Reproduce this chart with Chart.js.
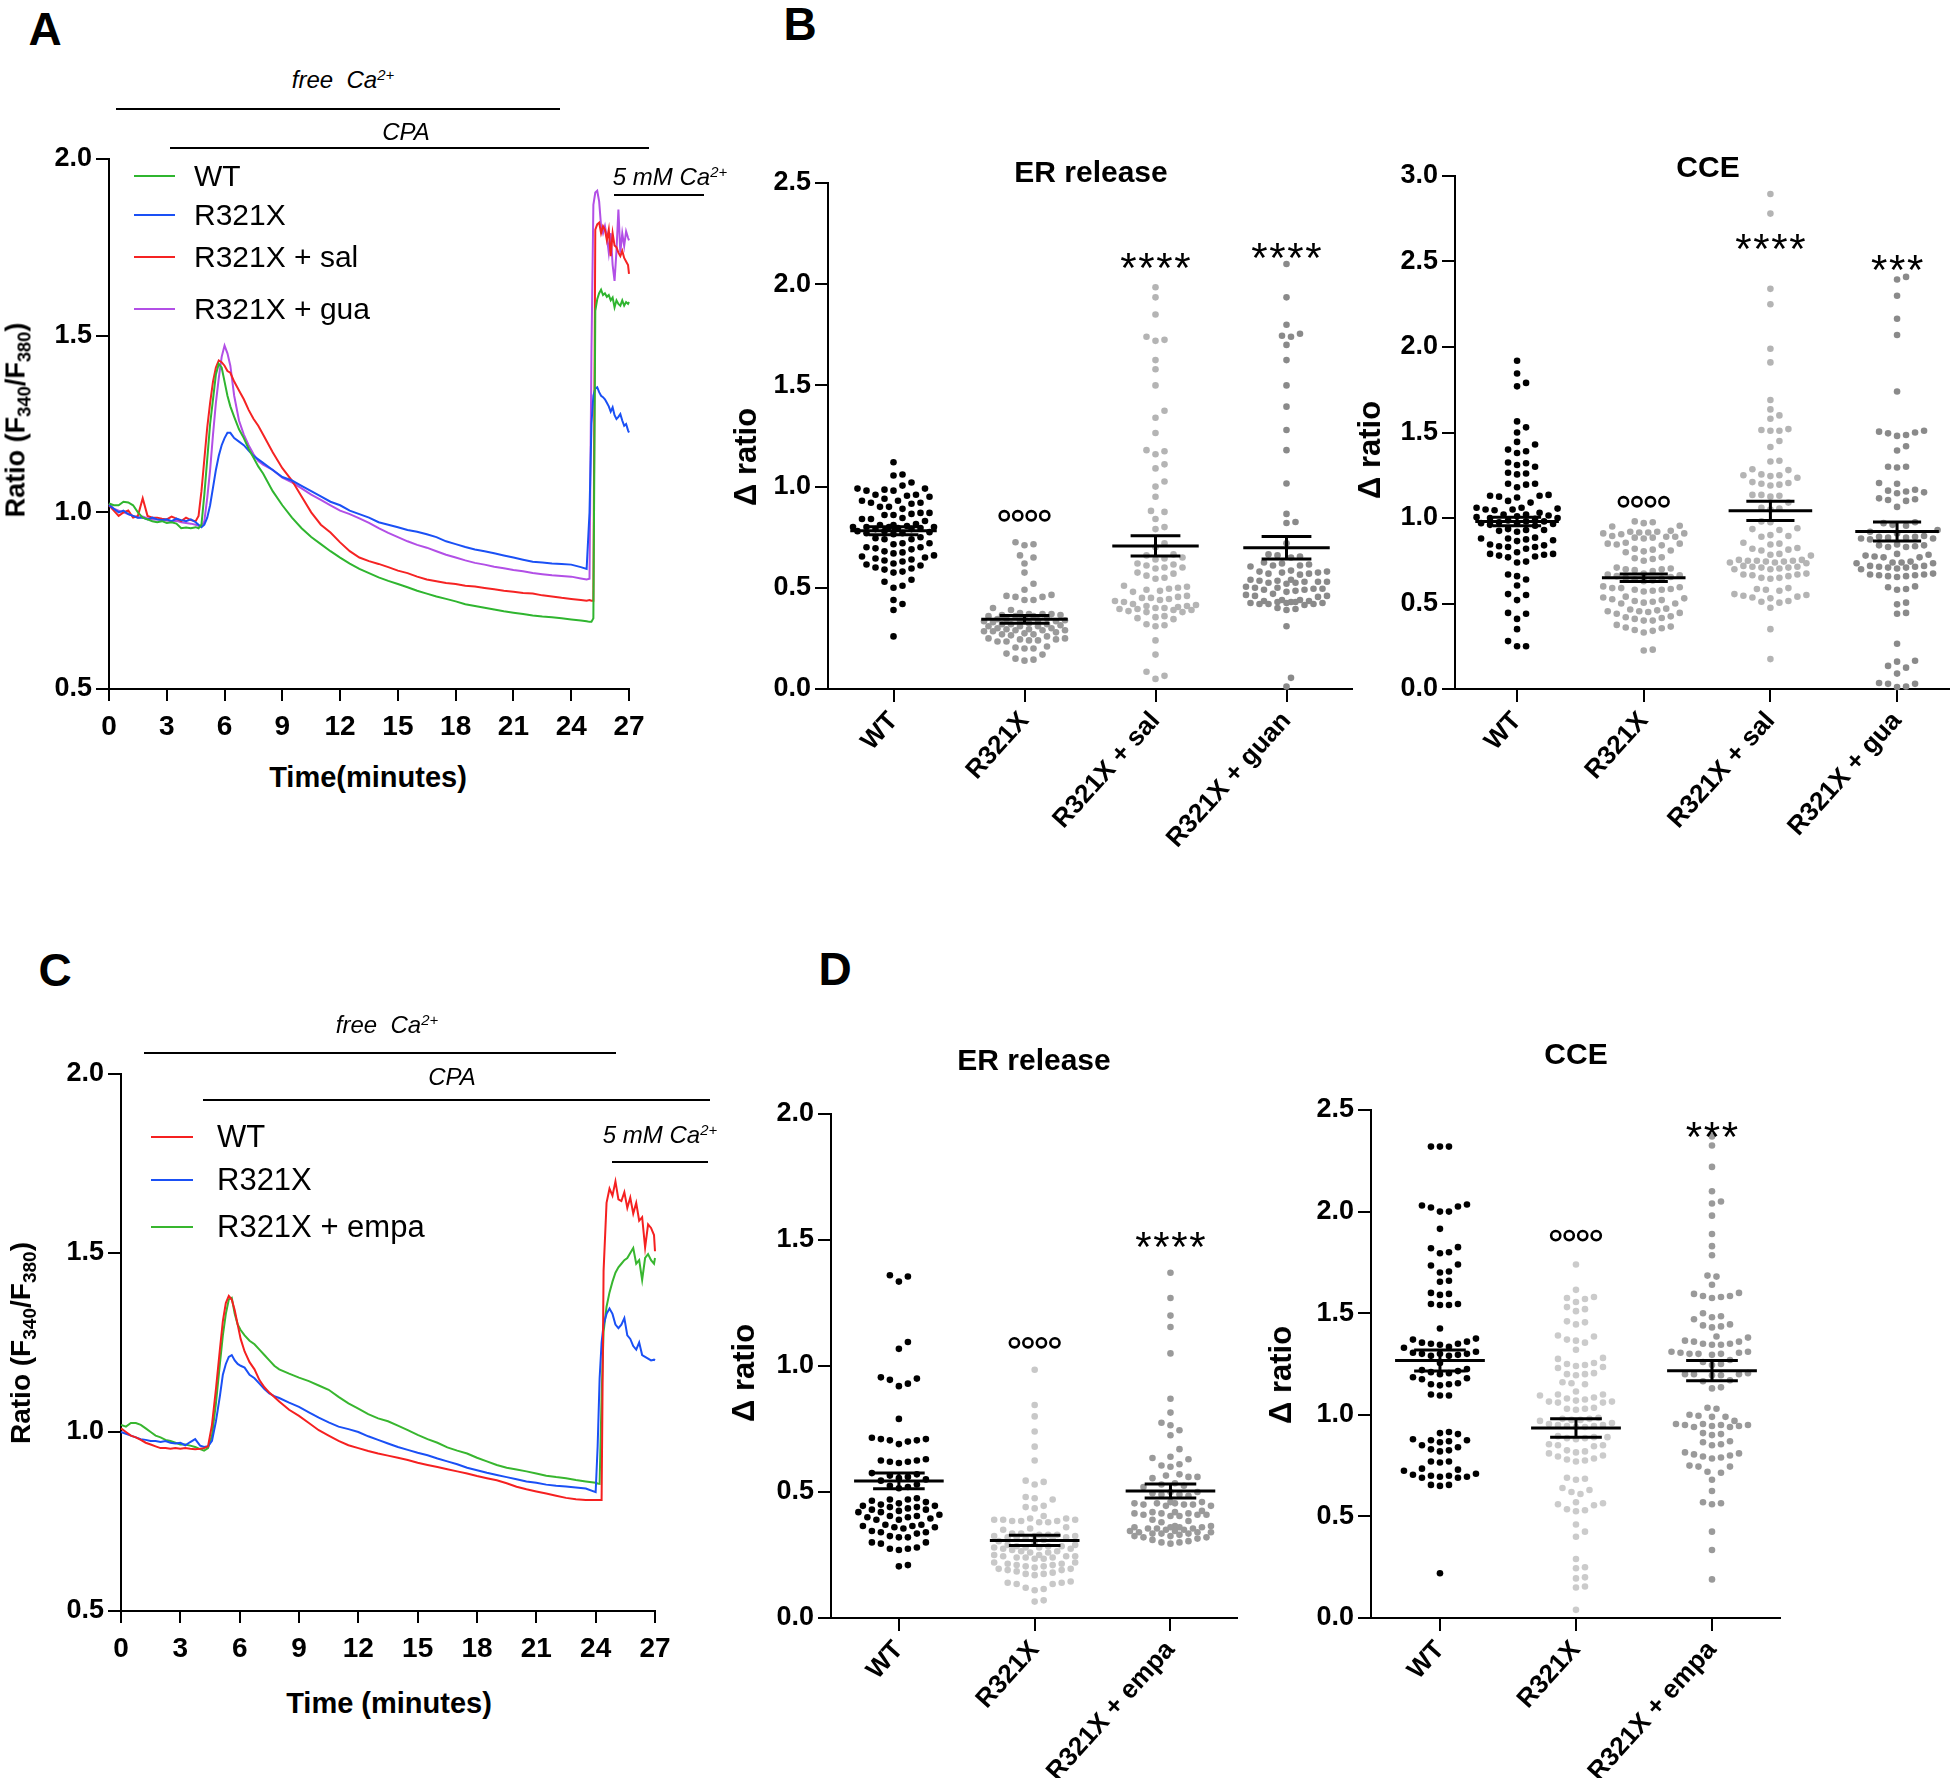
<!DOCTYPE html>
<html><head><meta charset="utf-8">
<script src="https://cdn.jsdelivr.net/npm/chart.js@4.4.1/dist/chart.umd.min.js"></script>
<style>
html,body{margin:0;padding:0;background:#fff;}
#fig{position:relative;width:1960px;height:1780px;overflow:hidden;font-family:"Liberation Sans",Arial,sans-serif;color:#000;background:#fff;}
canvas{position:absolute;}
.t{position:absolute;white-space:nowrap;line-height:1;transform:translate(-50%,-50%);}
.hl{position:absolute;height:2px;background:#000;}
sub{font-size:0.68em;vertical-align:baseline;position:relative;top:0.32em;}
sup{font-size:0.62em;vertical-align:baseline;position:relative;top:-0.55em;}
</style></head>
<body><div id="fig"></div>
<script>
// ---------------- DATA ----------------
// Panel A traces (time in minutes)
const A_time = [0,0.25,0.5,0.75,1,1.25,1.5,1.75,2,2.25,2.5,2.75,3,3.25,3.5,3.75,4,4.25,4.5,
 4.65,4.8,4.95,5.1,5.25,5.4,5.55,5.7,5.85,6,6.15,6.3,
 6.5,6.75,7,7.25,7.5,7.75,8,
 8.5,9,9.5,10,10.5,11,11.5,12,12.5,13,13.5,14,14.5,15,15.5,16,16.5,17,17.5,18,18.5,19,19.5,20,20.5,21,21.5,22,22.5,23,23.5,24,24.5,
 24.8,24.95,
 25.05,25.15,25.25,25.35,25.45,25.55,25.65,25.75,25.85,25.95,26.05,26.15,26.25,26.35,26.45,26.55,26.65,26.75,26.85,26.95,
 27];
const A_wt = [1.025,1.02,1.02,1.03,1.028,1.02,1.0,0.985,0.98,0.975,0.972,0.975,0.97,0.972,0.968,0.955,0.957,0.955,0.958,
 0.955,0.965,1.05,1.15,1.25,1.32,1.39,1.42,1.41,1.37,1.33,1.30,
 1.27,1.235,1.21,1.18,1.155,1.13,1.11,
 1.06,1.02,0.985,0.955,0.93,0.91,0.89,0.872,0.855,0.84,0.828,0.816,0.806,0.797,0.788,0.778,0.77,0.762,0.755,0.748,0.74,0.735,0.73,0.725,0.72,0.716,0.712,0.708,0.705,0.703,0.70,0.697,0.694,
 0.692,0.69,
 0.69,0.70,1.57,1.603,1.62,1.63,1.615,1.62,1.61,1.615,1.60,1.608,1.58,1.60,1.59,1.585,1.60,1.585,1.595,1.59,
 1.595];
const A_r321x = [1.02,1.01,1.0,1.005,0.995,0.99,0.985,0.985,0.98,0.985,0.98,0.978,0.98,0.975,0.982,0.978,0.975,0.98,0.972,
 0.965,0.958,0.965,0.985,1.02,1.07,1.12,1.16,1.19,1.21,1.225,1.225,
 1.21,1.20,1.19,1.175,1.16,1.15,1.14,
 1.12,1.10,1.09,1.075,1.06,1.045,1.03,1.02,1.005,0.995,0.985,0.972,0.965,0.958,0.95,0.945,0.938,0.93,0.918,0.91,0.902,0.895,0.89,0.884,0.878,0.872,0.866,0.86,0.858,0.855,0.854,0.852,0.845,
 0.84,1.0,
 1.25,1.33,1.35,1.354,1.34,1.33,1.326,1.32,1.31,1.30,1.285,1.297,1.275,1.264,1.27,1.278,1.26,1.245,1.25,1.232,
 1.226];
const A_sal = [1.02,1.005,0.99,1.0,1.005,0.985,0.99,1.04,0.99,0.985,0.985,0.982,0.98,0.988,0.982,0.975,0.985,0.978,0.975,
 0.99,1.06,1.15,1.24,1.31,1.37,1.41,1.43,1.425,1.415,1.40,1.395,
 1.37,1.345,1.32,1.29,1.265,1.245,1.22,
 1.17,1.125,1.09,1.045,1.0,0.965,0.943,0.915,0.89,0.872,0.862,0.854,0.845,0.835,0.828,0.818,0.81,0.805,0.80,0.797,0.792,0.79,0.786,0.782,0.778,0.775,0.772,0.77,0.765,0.762,0.758,0.755,0.752,
 0.75,0.752,
 0.75,0.75,1.80,1.815,1.82,1.79,1.81,1.80,1.77,1.80,1.725,1.79,1.755,1.75,1.735,1.725,1.74,1.72,1.71,1.70,
 1.675];
const A_gua = [1.025,1.01,1.005,1.0,0.995,0.99,0.985,0.988,0.983,0.98,0.98,0.978,0.977,0.975,0.976,0.972,0.97,0.968,0.965,
 0.962,0.96,0.975,1.04,1.12,1.22,1.31,1.38,1.44,1.472,1.45,1.415,
 1.33,1.26,1.22,1.19,1.165,1.145,1.135,
 1.12,1.098,1.085,1.068,1.05,1.035,1.02,1.005,0.995,0.983,0.97,0.955,0.942,0.93,0.918,0.908,0.90,0.89,0.88,0.872,0.864,0.857,0.852,0.846,0.842,0.837,0.833,0.828,0.825,0.822,0.82,0.818,0.813,
 0.81,0.812,
 1.45,1.87,1.905,1.91,1.88,1.81,1.79,1.81,1.78,1.735,1.79,1.70,1.655,1.74,1.857,1.735,1.79,1.754,1.795,1.777,
 1.77];
const A_names = ["WT","R321X","R321X + sal","R321X + gua"];
const A_colors = ["#2fb52f","#1a50f5","#f52323","#b24fe6"];

// Panel C traces
const C_time = [0,0.25,0.5,0.75,1,1.25,1.5,1.75,2,2.25,2.5,2.75,3,3.25,3.5,3.75,4,
 4.2,4.4,4.6,4.8,5,5.15,5.3,5.45,5.6,5.75,5.9,6.05,6.25,
 6.5,6.75,7,7.25,7.5,7.75,8,
 8.5,9,9.5,10,10.5,11,11.5,12,12.5,13,13.5,14,14.5,15,15.5,16,16.5,17,17.5,18,18.5,19,19.5,20,20.5,21,21.5,22,22.5,23,23.5,
 24,24.1,24.2,24.3,
 24.4,24.55,24.7,24.85,25,25.15,25.3,25.45,25.6,25.75,25.9,26.05,26.2,26.35,26.5,26.65,26.8,26.95,
 27];
const C_wt = [1.01,1.0,0.99,0.985,0.978,0.97,0.965,0.96,0.955,0.955,0.953,0.955,0.953,0.955,0.953,0.952,0.953,
 0.955,0.96,1.02,1.12,1.23,1.31,1.36,1.38,1.37,1.34,1.30,1.26,1.225,
 1.195,1.175,1.145,1.125,1.11,1.098,1.085,
 1.062,1.045,1.025,1.005,0.99,0.975,0.963,0.955,0.947,0.94,0.934,0.928,0.922,0.914,0.908,0.902,0.896,0.89,0.884,0.877,0.871,0.865,0.857,0.847,0.84,0.834,0.828,0.822,0.816,0.812,0.81,
 0.81,0.81,0.81,0.81,
 1.45,1.64,1.68,1.66,1.70,1.65,1.645,1.67,1.626,1.655,1.61,1.64,1.59,1.60,1.515,1.58,1.57,1.55,
 1.505];
const C_r321x = [1.0,0.995,0.99,0.985,0.98,0.978,0.975,0.975,0.972,0.975,0.97,0.968,0.97,0.963,0.972,0.98,0.962,
 0.958,0.96,0.975,1.03,1.1,1.16,1.19,1.21,1.215,1.2,1.19,1.185,1.18,
 1.16,1.15,1.135,1.12,1.108,1.10,1.095,
 1.082,1.07,1.055,1.04,1.027,1.015,1.008,1.0,0.988,0.978,0.968,0.958,0.95,0.942,0.935,0.926,0.918,0.91,0.90,0.893,0.886,0.88,0.874,0.868,0.862,0.858,0.853,0.85,0.848,0.845,0.842,
 0.832,0.96,1.15,1.25,
 1.30,1.33,1.345,1.33,1.30,1.29,1.30,1.318,1.27,1.26,1.24,1.23,1.25,1.215,1.21,1.205,1.20,1.202,
 1.20];
const C_empa = [1.02,1.015,1.025,1.025,1.02,1.01,1.0,0.99,0.985,0.978,0.975,0.97,0.965,0.965,0.962,0.958,0.952,
 0.948,0.955,0.99,1.08,1.19,1.27,1.33,1.37,1.375,1.33,1.30,1.285,1.27,
 1.255,1.245,1.23,1.215,1.20,1.185,1.175,
 1.163,1.152,1.142,1.13,1.118,1.098,1.08,1.065,1.05,1.038,1.03,1.018,1.005,0.992,0.98,0.97,0.957,0.948,0.94,0.928,0.918,0.908,0.90,0.895,0.89,0.884,0.878,0.874,0.871,0.866,0.862,
 0.858,0.856,0.855,1.1,
 1.28,1.35,1.39,1.42,1.445,1.46,1.47,1.48,1.486,1.50,1.514,1.47,1.48,1.425,1.486,1.497,1.48,1.47,
 1.486];
const C_names = ["WT","R321X","R321X + empa"];
const C_colors = ["#f52020","#1a50f5","#38b62f"];

const timeTicks = [0,3,6,9,12,15,18,21,24,27];

// Panel B  (Δ ratio values, one per cell)
const B_er_cats = ["WT","R321X","R321X + sal","R321X + guan"];
const B_cce_cats = ["WT","R321X","R321X + sal","R321X + gua"];
const B_er_wt = [1.12,1.06,1.055,1.02,1.005,0.99,0.99,0.985,0.98,0.98,0.96,0.96,0.955,0.95,0.94,0.93,0.93,0.92,0.92,0.915,0.9,0.9,0.89,0.87,0.87,0.865,0.86,0.86,0.845,0.84,0.84,0.83,0.815,0.81,0.81,0.805,0.80,0.80,0.80,0.80,0.795,0.795,0.79,0.79,0.78,0.78,0.775,0.77,0.77,0.765,0.75,0.745,0.74,0.74,0.72,0.72,0.715,0.70,0.70,0.695,0.69,0.68,0.675,0.67,0.66,0.655,0.65,0.645,0.64,0.635,0.63,0.62,0.615,0.61,0.60,0.595,0.59,0.58,0.575,0.54,0.53,0.51,0.50,0.44,0.42,0.39,0.26];
const B_er_r321x = [0.725,0.715,0.71,0.66,0.65,0.62,0.575,0.52,0.49,0.465,0.46,0.455,0.455,0.44,0.44,0.40,0.39,0.375,0.37,0.37,0.37,0.365,0.365,0.36,0.36,0.36,0.35,0.35,0.345,0.345,0.34,0.34,0.34,0.335,0.335,0.33,0.325,0.32,0.32,0.32,0.315,0.31,0.31,0.31,0.30,0.30,0.295,0.295,0.29,0.29,0.29,0.285,0.285,0.28,0.275,0.27,0.27,0.265,0.26,0.25,0.25,0.245,0.245,0.24,0.24,0.235,0.235,0.21,0.205,0.20,0.20,0.175,0.17,0.15,0.145,0.14];
const B_er_sal = [1.985,1.935,1.85,1.74,1.725,1.72,1.625,1.58,1.50,1.375,1.34,1.265,1.18,1.175,1.16,1.11,1.09,1.025,1.0,0.95,0.88,0.875,0.84,0.80,0.79,0.72,0.70,0.665,0.66,0.65,0.645,0.64,0.62,0.615,0.61,0.60,0.60,0.595,0.575,0.57,0.56,0.55,0.545,0.51,0.505,0.50,0.495,0.49,0.485,0.48,0.46,0.455,0.45,0.45,0.445,0.44,0.435,0.43,0.42,0.415,0.41,0.41,0.405,0.40,0.40,0.395,0.395,0.39,0.39,0.385,0.38,0.38,0.36,0.355,0.35,0.345,0.32,0.315,0.31,0.24,0.17,0.085,0.065,0.05];
const B_er_guan = [2.10,1.935,1.80,1.755,1.745,1.74,1.70,1.625,1.50,1.395,1.28,1.18,1.015,0.865,0.825,0.82,0.72,0.665,0.66,0.655,0.65,0.625,0.62,0.615,0.61,0.61,0.605,0.585,0.58,0.58,0.575,0.575,0.57,0.57,0.565,0.54,0.54,0.535,0.535,0.53,0.53,0.53,0.525,0.525,0.52,0.505,0.50,0.50,0.495,0.495,0.49,0.49,0.485,0.48,0.47,0.465,0.46,0.46,0.455,0.44,0.44,0.435,0.435,0.43,0.43,0.43,0.425,0.425,0.425,0.42,0.42,0.42,0.415,0.40,0.395,0.39,0.31,0.055,0.012];
const B_er_mean = [0.782,0.344,0.707,0.698];
const B_er_sem = [0.02,0.019,0.05,0.056];
const B_er_stars = [{i:2,v:2.13,n:4},{i:3,v:2.18,n:4}];
const B_er_open = [{i:1,v:0.856}];

const B_cce_wt = [1.92,1.845,1.79,1.77,1.565,1.53,1.50,1.445,1.43,1.40,1.39,1.38,1.325,1.32,1.31,1.30,1.265,1.26,1.255,1.20,1.20,1.195,1.18,1.135,1.13,1.13,1.125,1.12,1.10,1.09,1.06,1.06,1.055,1.05,1.05,1.045,1.03,1.02,1.02,1.015,1.01,1.005,1.0,1.0,0.995,0.985,0.98,0.98,0.975,0.97,0.97,0.965,0.96,0.955,0.935,0.93,0.93,0.925,0.92,0.885,0.88,0.88,0.875,0.87,0.865,0.845,0.84,0.835,0.83,0.83,0.82,0.80,0.79,0.79,0.785,0.78,0.775,0.77,0.745,0.74,0.67,0.66,0.64,0.605,0.555,0.55,0.52,0.445,0.44,0.41,0.35,0.28,0.25,0.25];
const B_cce_r321x = [0.98,0.975,0.97,0.955,0.95,0.925,0.92,0.92,0.915,0.915,0.91,0.91,0.905,0.895,0.89,0.89,0.885,0.885,0.88,0.855,0.85,0.85,0.845,0.84,0.82,0.815,0.81,0.805,0.80,0.77,0.765,0.76,0.75,0.71,0.705,0.70,0.70,0.695,0.69,0.675,0.67,0.665,0.66,0.655,0.65,0.645,0.64,0.635,0.63,0.60,0.595,0.59,0.59,0.585,0.58,0.58,0.575,0.57,0.54,0.535,0.53,0.525,0.52,0.515,0.51,0.505,0.50,0.50,0.47,0.465,0.46,0.455,0.455,0.45,0.445,0.44,0.425,0.42,0.415,0.41,0.40,0.40,0.375,0.365,0.36,0.355,0.345,0.34,0.33,0.23,0.225];
const B_cce_sal = [2.895,2.78,2.34,2.25,1.99,1.91,1.69,1.635,1.60,1.58,1.52,1.515,1.51,1.51,1.45,1.415,1.335,1.33,1.285,1.28,1.255,1.25,1.25,1.245,1.235,1.21,1.205,1.20,1.195,1.19,1.135,1.135,1.13,1.125,1.09,1.06,1.055,1.05,0.98,0.975,0.94,0.935,0.93,0.90,0.895,0.89,0.855,0.85,0.845,0.825,0.82,0.815,0.81,0.79,0.785,0.78,0.755,0.755,0.75,0.75,0.75,0.745,0.745,0.74,0.74,0.735,0.72,0.715,0.715,0.71,0.71,0.705,0.70,0.70,0.675,0.67,0.67,0.665,0.66,0.65,0.65,0.645,0.59,0.585,0.58,0.575,0.555,0.55,0.545,0.54,0.535,0.53,0.515,0.51,0.505,0.475,0.35,0.175];
const B_cce_gua = [2.41,2.395,2.30,2.165,2.07,1.74,1.51,1.505,1.50,1.495,1.485,1.48,1.42,1.395,1.30,1.30,1.295,1.205,1.20,1.165,1.16,1.155,1.15,1.145,1.115,1.11,1.105,1.10,1.065,0.975,0.97,0.96,0.955,0.93,0.92,0.91,0.895,0.89,0.89,0.885,0.885,0.88,0.88,0.875,0.845,0.84,0.84,0.835,0.83,0.83,0.79,0.785,0.78,0.775,0.77,0.77,0.745,0.74,0.74,0.735,0.735,0.72,0.72,0.715,0.715,0.71,0.71,0.705,0.70,0.675,0.67,0.67,0.665,0.665,0.66,0.66,0.655,0.60,0.595,0.585,0.58,0.505,0.495,0.445,0.44,0.265,0.165,0.16,0.135,0.125,0.09,0.035,0.03,0.03,0.015,0.012];
const B_cce_mean = [0.98,0.65,1.042,0.921];
const B_cce_sem = [0.025,0.022,0.056,0.055];
const B_cce_stars = [{i:2,v:2.63,n:4},{i:3,v:2.51,n:3}];
const B_cce_open = [{i:1,v:1.095}];

// Panel D
const D_cats = ["WT","R321X","R321X + empa"];
const D_er_wt = [1.36,1.355,1.335,1.095,1.068,0.955,0.95,0.945,0.93,0.92,0.79,0.715,0.71,0.71,0.705,0.705,0.70,0.69,0.63,0.625,0.625,0.62,0.62,0.615,0.575,0.57,0.565,0.56,0.555,0.55,0.545,0.53,0.525,0.52,0.515,0.475,0.47,0.47,0.465,0.46,0.455,0.45,0.445,0.445,0.44,0.44,0.435,0.43,0.43,0.425,0.42,0.42,0.41,0.405,0.405,0.40,0.40,0.395,0.39,0.39,0.37,0.37,0.365,0.365,0.36,0.36,0.355,0.345,0.34,0.34,0.335,0.325,0.32,0.32,0.30,0.30,0.295,0.28,0.275,0.275,0.27,0.21,0.205];
const D_er_r321x = [0.985,0.845,0.80,0.74,0.68,0.625,0.545,0.54,0.53,0.48,0.475,0.47,0.445,0.44,0.435,0.405,0.395,0.395,0.39,0.39,0.39,0.385,0.385,0.385,0.38,0.38,0.36,0.355,0.35,0.335,0.335,0.33,0.33,0.33,0.325,0.325,0.325,0.32,0.32,0.32,0.315,0.315,0.31,0.305,0.30,0.29,0.29,0.285,0.285,0.285,0.28,0.28,0.28,0.275,0.275,0.27,0.265,0.265,0.26,0.26,0.25,0.25,0.245,0.245,0.245,0.24,0.24,0.24,0.235,0.235,0.22,0.22,0.215,0.215,0.21,0.21,0.205,0.205,0.20,0.195,0.195,0.19,0.19,0.185,0.18,0.175,0.175,0.17,0.145,0.14,0.14,0.135,0.135,0.12,0.115,0.11,0.07,0.065];
const D_er_empa = [1.37,1.27,1.20,1.155,1.05,0.87,0.815,0.775,0.765,0.745,0.725,0.67,0.64,0.635,0.63,0.61,0.605,0.60,0.57,0.565,0.56,0.56,0.555,0.535,0.53,0.525,0.52,0.50,0.50,0.495,0.49,0.49,0.485,0.46,0.46,0.455,0.455,0.455,0.45,0.45,0.45,0.445,0.445,0.425,0.42,0.42,0.415,0.415,0.415,0.41,0.41,0.41,0.405,0.405,0.39,0.385,0.38,0.365,0.365,0.36,0.36,0.36,0.36,0.355,0.355,0.355,0.35,0.35,0.345,0.345,0.34,0.34,0.34,0.335,0.335,0.335,0.33,0.325,0.325,0.32,0.32,0.315,0.31,0.305,0.30,0.30,0.295];
const D_er_mean = [0.544,0.308,0.504];
const D_er_sem = [0.031,0.02,0.028];
const D_er_stars = [{i:2,v:1.51,n:4}];
const D_er_open = [{i:1,v:1.092}];

const D_cce_wt = [2.32,2.32,2.32,2.035,2.03,2.025,2.02,2.0,2.0,1.915,1.825,1.82,1.80,1.795,1.74,1.735,1.705,1.70,1.66,1.655,1.60,1.595,1.59,1.545,1.545,1.54,1.54,1.425,1.375,1.37,1.36,1.355,1.35,1.35,1.345,1.335,1.33,1.31,1.305,1.30,1.30,1.30,1.295,1.29,1.29,1.255,1.225,1.22,1.215,1.21,1.205,1.20,1.185,1.18,1.175,1.155,1.15,1.15,1.145,1.10,1.095,1.095,0.915,0.91,0.905,0.88,0.875,0.875,0.87,0.865,0.85,0.84,0.83,0.825,0.82,0.77,0.77,0.765,0.735,0.73,0.725,0.71,0.705,0.70,0.70,0.695,0.695,0.69,0.69,0.655,0.655,0.65,0.22];
const D_cce_r321x = [1.74,1.615,1.58,1.575,1.57,1.555,1.53,1.52,1.51,1.46,1.455,1.445,1.39,1.385,1.37,1.365,1.355,1.32,1.28,1.275,1.255,1.25,1.245,1.24,1.235,1.23,1.205,1.20,1.20,1.195,1.16,1.155,1.15,1.115,1.10,1.10,1.095,1.085,1.08,1.075,1.07,1.065,1.065,1.06,1.06,1.035,1.03,1.03,1.025,0.985,0.98,0.98,0.975,0.975,0.97,0.96,0.955,0.95,0.95,0.945,0.945,0.94,0.94,0.895,0.89,0.89,0.885,0.885,0.88,0.855,0.85,0.85,0.845,0.825,0.82,0.815,0.81,0.80,0.795,0.785,0.78,0.775,0.77,0.69,0.685,0.68,0.64,0.63,0.62,0.61,0.57,0.565,0.56,0.555,0.535,0.53,0.525,0.46,0.425,0.40,0.29,0.25,0.245,0.20,0.195,0.155,0.15,0.04];
const D_cce_empa = [2.37,2.325,2.22,2.10,2.05,2.04,1.98,1.89,1.83,1.785,1.685,1.68,1.64,1.60,1.595,1.585,1.585,1.58,1.575,1.50,1.485,1.48,1.47,1.445,1.44,1.435,1.43,1.385,1.38,1.365,1.36,1.36,1.35,1.35,1.345,1.345,1.31,1.31,1.305,1.305,1.30,1.30,1.30,1.295,1.27,1.26,1.25,1.245,1.205,1.20,1.20,1.20,1.195,1.195,1.17,1.165,1.135,1.13,1.035,1.03,1.0,0.995,0.99,0.99,0.97,0.955,0.955,0.95,0.95,0.95,0.945,0.945,0.94,0.94,0.91,0.905,0.90,0.87,0.865,0.855,0.85,0.815,0.81,0.805,0.80,0.795,0.79,0.785,0.75,0.745,0.745,0.72,0.715,0.68,0.625,0.57,0.565,0.56,0.425,0.335,0.19];
const D_cce_mean = [1.267,0.935,1.217];
const D_cce_sem = [0.052,0.045,0.05];
const D_cce_stars = [{i:2,v:2.415,n:3}];
const D_cce_open = [{i:1,v:1.882}];

// ---------------- RENDERING ----------------
Chart.defaults.font.family = '"Liberation Sans", Arial, sans-serif';
Chart.defaults.color = '#000';
const fig = document.getElementById('fig');

function txt(html, cx, cy, font, rot) {
  const d = document.createElement('div');
  d.className = 't';
  d.innerHTML = html;
  d.style.left = cx + 'px'; d.style.top = cy + 'px'; d.style.font = font;
  if (rot) d.style.transform = 'translate(-50%,-50%) rotate(' + rot + 'deg)';
  fig.appendChild(d);
}
function hline(x1, x2, y) {
  const d = document.createElement('div');
  d.className = 'hl';
  d.style.left = x1 + 'px'; d.style.top = (y - 1) + 'px'; d.style.width = (x2 - x1) + 'px';
  fig.appendChild(d);
}
function legend(names, colors, x1, x2, ys, tx, font) {
  names.forEach((n, i) => {
    const l = document.createElement('div');
    l.className = 'hl';
    l.style.left = x1 + 'px'; l.style.top = (ys[i] - 1) + 'px'; l.style.width = (x2 - x1) + 'px';
    l.style.background = colors[i];
    fig.appendChild(l);
    const d = document.createElement('div');
    d.className = 't';
    d.textContent = n;
    d.style.left = tx + 'px'; d.style.top = ys[i] + 'px'; d.style.font = font;
    d.style.transform = 'translate(0,-50%)';
    fig.appendChild(d);
  });
}

function mk(plot, cfg) {
  const box = {l: plot.l - plot.yw, t: plot.t - 40, r: plot.r + plot.rp, b: plot.b + plot.xh};
  const c = document.createElement('canvas');
  c.width = box.r - box.l; c.height = box.b - box.t;
  c.style.left = box.l + 'px'; c.style.top = box.t + 'px';
  c.style.width = c.width + 'px'; c.style.height = c.height + 'px';
  fig.appendChild(c);
  cfg.options.responsive = false;
  cfg.options.animation = false;
  cfg.options.layout = {padding: {left: 0, top: plot.t - box.t, right: box.r - plot.r, bottom: 0}};
  cfg.options.scales.x.afterFit = s => { s.height = plot.xh; };
  cfg.options.scales.y.afterFit = s => { s.width = plot.yw; };
  cfg.options.plugins = Object.assign({legend: {display: false}, tooltip: {enabled: false}, title: {display: false}}, cfg.options.plugins || {});
  return new Chart(c, cfg);
}

const tickFont = {size: 27, weight: 'bold'};
function yScale(min, max) {
  return {type: 'linear', min, max,
    ticks: {stepSize: 0.5, callback: v => Number(v).toFixed(1), font: tickFont, color: '#000', padding: 4},
    grid: {drawOnChartArea: false, color: '#000', lineWidth: 2, tickLength: 13},
    border: {display: true, color: '#000', width: 2}};
}

function timeChart(plot, time, series, colors) {
  return mk(plot, {
    type: 'line',
    data: {datasets: series.map((s, k) => ({
      data: time.map((t, i) => ({x: t, y: s[i]})),
      borderColor: colors[k], borderWidth: 2, pointRadius: 0, tension: 0, fill: false, clip: 4}))},
    options: {
      parsing: false,
      scales: {
        x: {type: 'linear', min: 0, max: 27,
          afterBuildTicks: s => { s.ticks = timeTicks.map(v => ({value: v})); },
          ticks: {font: {size: 28, weight: 'bold'}, color: '#000', padding: 9, maxRotation: 0, autoSkip: false},
          grid: {drawOnChartArea: false, color: '#000', lineWidth: 2, tickLength: 12},
          border: {display: true, color: '#000', width: 2}},
        y: yScale(0.5, 2.0)
      }
    }
  });
}

// beeswarm layout (positions only; values come from the arrays above)
function swarmOffsets(vals, pxY, pxX, d, maxHalf) {
  const order = vals.map((v, i) => i).sort((a, b) => vals[a] - vals[b]);
  const placed = [];
  const off = new Array(vals.length).fill(0);
  for (const i of order) {
    const y = vals[i] * pxY;
    const near = placed.filter(p => Math.abs(p.y - y) < d);
    let chosen = null, best = -1, bestStep = 0;
    for (let k = 0; k < 400; k++) {
      const step = Math.ceil(k / 2) * (d / 2) * (k % 2 ? 1 : -1);
      if (Math.abs(step) > maxHalf) break;
      let md = Infinity;
      for (const p of near) { const q = Math.hypot(p.x - step, p.y - y); if (q < md) md = q; }
      if (md >= d - 0.01) { chosen = step; break; }
      if (md > best + 0.5) { best = md; bestStep = step; }
    }
    if (chosen === null) chosen = bestStep;
    placed.push({x: chosen, y});
    off[i] = chosen / pxX;
  }
  return off;
}

function annot(means, sems, stars, open) {
  return {
    id: 'annot',
    afterDatasetsDraw(chart) {
      const {ctx, scales: {x, y}} = chart;
      ctx.save();
      ctx.strokeStyle = '#000'; ctx.lineWidth = 3;
      means.forEach((m, i) => {
        const cx = x.getPixelForValue(i);
        const hw = x.getPixelForValue(i + 0.33) - cx, cw = x.getPixelForValue(i + 0.19) - cx;
        const ym = y.getPixelForValue(m), yh = y.getPixelForValue(m + sems[i]), yl = y.getPixelForValue(m - sems[i]);
        ctx.beginPath();
        ctx.moveTo(cx - hw, ym); ctx.lineTo(cx + hw, ym);
        ctx.moveTo(cx - cw, yh); ctx.lineTo(cx + cw, yh);
        ctx.moveTo(cx - cw, yl); ctx.lineTo(cx + cw, yl);
        ctx.moveTo(cx, yh); ctx.lineTo(cx, yl);
        ctx.stroke();
      });
      ctx.fillStyle = '#000';
      ctx.font = '42px "Liberation Sans", Arial, sans-serif';
      ctx.textAlign = 'center'; ctx.textBaseline = 'alphabetic';
      stars.forEach(s => {
        const cx = x.getPixelForValue(s.i), cy = y.getPixelForValue(s.v);
        for (let k = 0; k < s.n; k++) ctx.fillText('*', cx + (k - (s.n - 1) / 2) * 18, cy + 24);
      });
      ctx.lineWidth = 2.6;
      open.forEach(o => {
        const cx = x.getPixelForValue(o.i), cy = y.getPixelForValue(o.v);
        for (let k = 0; k < 4; k++) {
          ctx.beginPath();
          ctx.arc(cx + (k - 1.5) * 13.5, cy, 4.6, 0, Math.PI * 2);
          ctx.stroke();
        }
      });
      ctx.restore();
    }
  };
}

function dotChart(plot, xmin, xmax, ymax, cats, groups, colors, means, sems, stars, open) {
  const pxY = (plot.b - plot.t) / ymax;
  const pxX = (plot.r - plot.l) / (xmax - xmin);
  const datasets = groups.map((vals, gi) => {
    const off = swarmOffsets(vals, pxY, pxX, 9, 44);
    return {data: vals.map((v, k) => ({x: gi + off[k], y: v})), backgroundColor: colors[gi],
      pointRadius: 3.3, pointBorderWidth: 0, borderWidth: 0, clip: false};
  });
  return mk(plot, {
    type: 'scatter',
    data: {datasets},
    plugins: [annot(means, sems, stars, open)],
    options: {
      parsing: false,
      scales: {
        x: {type: 'linear', min: xmin, max: xmax,
          afterBuildTicks: s => { s.ticks = cats.map((c, i) => ({value: i})); },
          ticks: {callback: v => cats[Math.round(v)], autoSkip: false, minRotation: 48, maxRotation: 48,
            font: {size: 26, weight: 'bold'}, color: '#000', padding: 4},
          grid: {drawOnChartArea: false, color: '#000', lineWidth: 2, tickLength: 13},
          border: {display: true, color: '#000', width: 2}},
        y: yScale(0, ymax)
      }
    }
  });
}

// ----- Panel A -----
timeChart({l: 109, t: 159, r: 629, b: 689, yw: 100, xh: 60, rp: 40}, A_time, [A_wt, A_r321x, A_sal, A_gua], A_colors);
txt('A', 45, 29, 'bold 46px "Liberation Sans", Arial');
txt('free&nbsp;&nbsp;Ca<sup>2+</sup>', 343, 80, 'italic 24px "Liberation Sans", Arial');
hline(116, 560, 109);
txt('CPA', 406, 132, 'italic 24px "Liberation Sans", Arial');
hline(170, 649, 148);
txt('5 mM Ca<sup>2+</sup>', 670, 177, 'italic 24px "Liberation Sans", Arial');
hline(614, 704, 195);
legend(A_names, A_colors, 134, 175, [176, 215, 257, 309], 194, '30px "Liberation Sans", Arial');
txt('Ratio (F<sub>340</sub>/F<sub>380</sub>)', 16, 420, 'bold 27px "Liberation Sans", Arial', -90);
txt('Time(minutes)', 368, 777, 'bold 29px "Liberation Sans", Arial');

// ----- Panel B -----
dotChart({l: 828, t: 183, r: 1352, b: 689, yw: 90, xh: 190, rp: 10}, -0.5, 3.5, 2.5, B_er_cats,
  [B_er_wt, B_er_r321x, B_er_sal, B_er_guan], ['#000000', '#9a9a9a', '#b4b4b4', '#8a8a8a'],
  B_er_mean, B_er_sem, B_er_stars, B_er_open);
dotChart({l: 1455, t: 176, r: 1949, b: 689, yw: 90, xh: 190, rp: 10}, -0.49, 3.41, 3.0, B_cce_cats,
  [B_cce_wt, B_cce_r321x, B_cce_sal, B_cce_gua], ['#000000', '#a8a8a8', '#b4b4b4', '#8a8a8a'],
  B_cce_mean, B_cce_sem, B_cce_stars, B_cce_open);
txt('B', 800, 24, 'bold 46px "Liberation Sans", Arial');
txt('ER release', 1091, 172, 'bold 30px "Liberation Sans", Arial');
txt('CCE', 1708, 167, 'bold 30px "Liberation Sans", Arial');
txt('Δ ratio', 746, 457, 'bold 31px "Liberation Sans", Arial', -90);
txt('Δ ratio', 1370, 450, 'bold 31px "Liberation Sans", Arial', -90);

// ----- Panel C -----
timeChart({l: 121, t: 1074, r: 655, b: 1611, yw: 110, xh: 60, rp: 40}, C_time, [C_wt, C_r321x, C_empa], C_colors);
txt('C', 55, 970, 'bold 46px "Liberation Sans", Arial');
txt('free&nbsp;&nbsp;Ca<sup>2+</sup>', 387, 1025, 'italic 24px "Liberation Sans", Arial');
hline(144, 616, 1053);
txt('CPA', 452, 1077, 'italic 24px "Liberation Sans", Arial');
hline(203, 710, 1100);
txt('5 mM Ca<sup>2+</sup>', 660, 1135, 'italic 24px "Liberation Sans", Arial');
hline(612, 708, 1162);
legend(C_names, C_colors, 151, 193, [1137, 1180, 1227], 217, '31px "Liberation Sans", Arial');
txt('Ratio (F<sub>340</sub>/F<sub>380</sub>)', 21, 1343, 'bold 28px "Liberation Sans", Arial', -90);
txt('Time (minutes)', 389, 1703, 'bold 29px "Liberation Sans", Arial');

// ----- Panel D -----
dotChart({l: 831, t: 1114, r: 1237, b: 1618, yw: 90, xh: 160, rp: 10}, -0.5, 2.49, 2.0, D_cats,
  [D_er_wt, D_er_r321x, D_er_empa], ['#000000', '#c8c8c8', '#9a9a9a'],
  D_er_mean, D_er_sem, D_er_stars, D_er_open);
dotChart({l: 1371, t: 1110, r: 1780, b: 1618, yw: 90, xh: 160, rp: 10}, -0.507, 2.5, 2.5, D_cats,
  [D_cce_wt, D_cce_r321x, D_cce_empa], ['#000000', '#cbcbcb', '#9a9a9a'],
  D_cce_mean, D_cce_sem, D_cce_stars, D_cce_open);
txt('D', 835, 969, 'bold 46px "Liberation Sans", Arial');
txt('ER release', 1034, 1060, 'bold 30px "Liberation Sans", Arial');
txt('CCE', 1576, 1054, 'bold 30px "Liberation Sans", Arial');
txt('Δ ratio', 744, 1373, 'bold 31px "Liberation Sans", Arial', -90);
txt('Δ ratio', 1281, 1375, 'bold 31px "Liberation Sans", Arial', -90);
</script>
</body></html>
